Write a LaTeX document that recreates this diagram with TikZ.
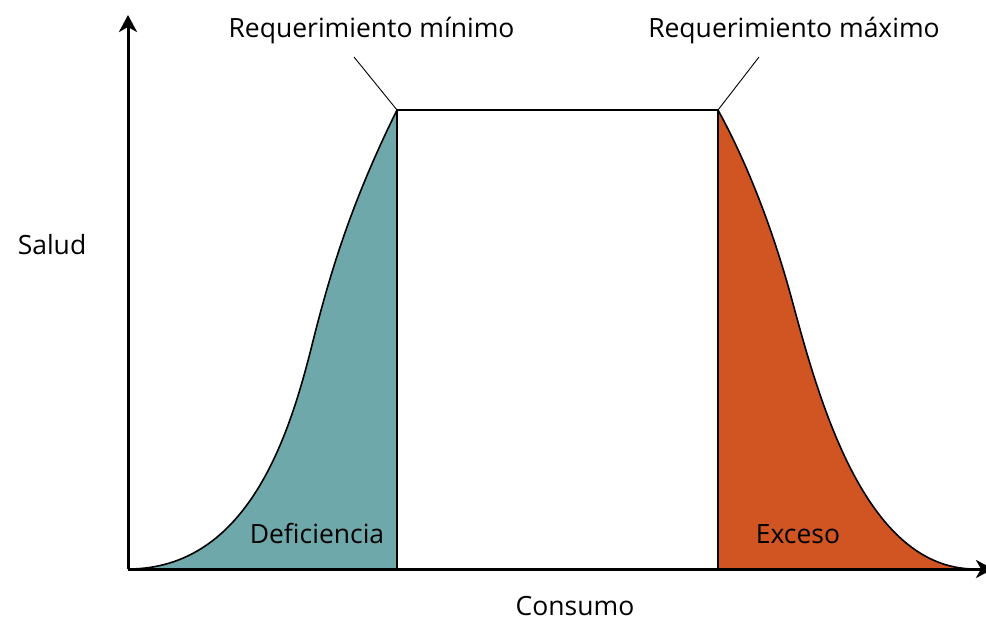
\documentclass[tikz,border=0pt]{standalone}
\usepackage{fontspec}
\setmainfont{Open Sans}
\usetikzlibrary{arrows.meta}
\definecolor{defcol}{HTML}{6FA8AA}
\definecolor{exccol}{HTML}{D05522}
\begin{document}
\begin{tikzpicture}[x=1pt,y=-1pt,
  axisline/.style={line width=3pt,-{Stealth[length=17pt,width=18pt,inset=5pt]}},
  curveline/.style={line width=1.6pt,line join=round},
  leader/.style={line width=0.9pt},
  lbl/.style={font=\fontsize{26.5}{30}\selectfont,inner sep=0pt,anchor=base}]
\useasboundingbox (0,0) rectangle (986,622);
\fill[white] (0,0) rectangle (986,622);
\coordinate (O) at (128,569);
\coordinate (Ytip) at (128,15);
\coordinate (Xtip) at (993,569);
\coordinate (Lb) at (397,569);
\coordinate (Lt) at (397,110);
\coordinate (Rt) at (718,110);
\coordinate (Rb) at (718,569);
\coordinate (Re) at (975,569);
\coordinate (Li) at (312,345);
\coordinate (Ri) at (792,300);
\coordinate (Lm) at (354,57);
\coordinate (Rm) at (759,57);
% fills
\fill[defcol] (O) .. controls (248,569) and (289.5,435) .. (Li)
  .. controls (329,277) and (350,205) .. (Lt) -- (Lb) -- cycle;
\fill[exccol] (Rt) .. controls (751,170) and (775.8,240) .. (Ri)
  .. controls (819,400) and (865,569) .. (Re) -- (Rb) -- cycle;
% outlines
\draw[curveline] (O) .. controls (248,569) and (289.5,435) .. (Li)
  .. controls (329,277) and (350,205) .. (Lt);
\draw[curveline] (Rt) .. controls (751,170) and (775.8,240) .. (Ri)
  .. controls (819,400) and (865,569) .. (Re);
\draw[curveline] (Lb) -- (Lt) -- (Rt) -- (Rb);
% leaders
\draw[leader] (Lt) -- (Lm);
\draw[leader] (Rt) -- (Rm);
% axes
\draw[axisline] (O) -- (Ytip);
\draw[axisline] (O) -- (Xtip);
% labels
\node[lbl] (tmin) at (371.5,37) {Requerimiento mínimo};
\node[lbl] (tmax) at (794,37) {Requerimiento máximo};
\node[lbl] (salud) at (52,254) {Salud};
\node[lbl] (consumo) at (575,615) {Consumo};
\node[lbl] (def) at (317,543) {Deficiencia};
\node[lbl] (exc) at (798,543) {Exceso};
\end{tikzpicture}
\end{document}
